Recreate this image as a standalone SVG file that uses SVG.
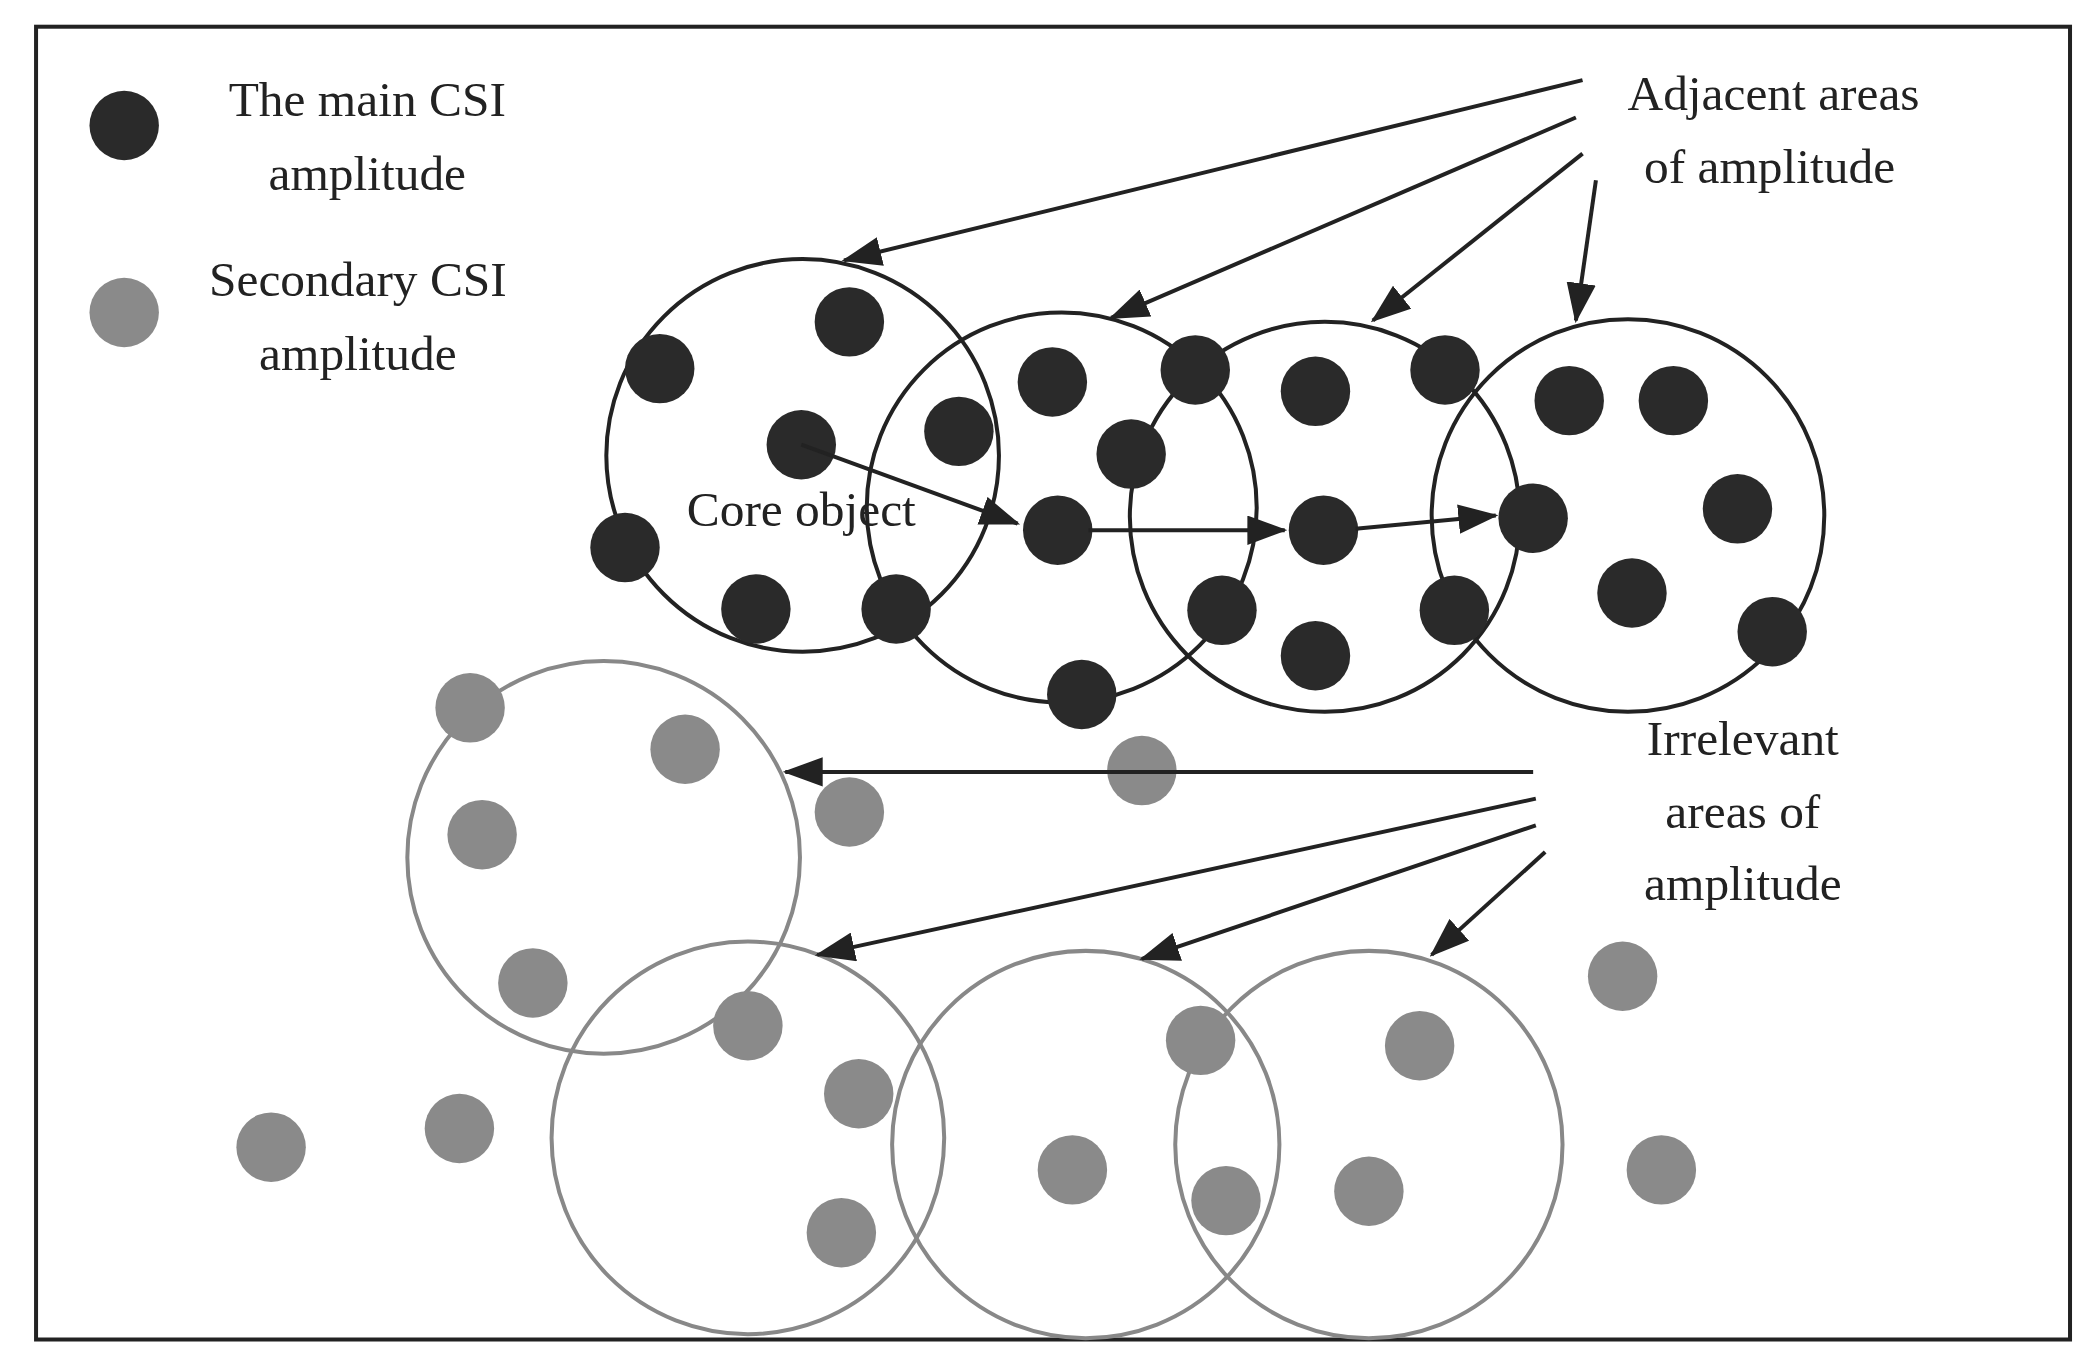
<svg xmlns="http://www.w3.org/2000/svg" width="2094" height="1361" viewBox="0 0 2094 1361">
<style>
.t{font-family:"Liberation Serif",serif;font-size:37px;fill:#222;text-anchor:middle}
.bk{fill:#2a2a2a}
.gr{fill:#8a8a8a}
.cb{fill:none;stroke:#222;stroke-width:3}
.cg{fill:none;stroke:#888;stroke-width:3}
.a{stroke:#222;stroke-width:3;fill:none;marker-end:url(#ah)}
</style>
<defs><marker id="ah" markerWidth="12" markerHeight="10" refX="11" refY="5" orient="auto" markerUnits="userSpaceOnUse" viewBox="0 0 12 10"><path d="M0,0 L12,5 L0,10 Z" fill="#222"/></marker>
<marker id="ah2" markerWidth="30" markerHeight="22" refX="28" refY="11" orient="auto" markerUnits="userSpaceOnUse" viewBox="0 0 30 22"><path d="M0,0 L30,11 L0,22 Z" fill="#222"/></marker></defs>
<rect width="2094" height="1361" fill="#fff"/>
<g transform="scale(1.3355)">
<rect x="27" y="20" width="1523" height="983" fill="none" stroke="#222" stroke-width="3"/>
<g id="legend">
<circle class="bk" cx="93" cy="94" r="26"/>
<text class="t" x="275" y="87">The main CSI</text><text class="t" x="275" y="142">amplitude</text>
<circle class="gr" cx="93" cy="234" r="26"/>
<text class="t" x="268" y="222">Secondary CSI</text><text class="t" x="268" y="277">amplitude</text>
</g>
<g id="main-clusters">
<circle class="cb" cx="601" cy="341" r="147"/><circle class="cb" cx="795" cy="380" r="146"/><circle class="cb" cx="992" cy="387" r="146"/><circle class="cb" cx="1219" cy="386" r="147"/>
<g class="bk">
<circle cx="636" cy="241" r="26"/><circle cx="494" cy="276" r="26"/><circle cx="600" cy="333" r="26"/><circle cx="718" cy="323" r="26"/><circle cx="468" cy="410" r="26"/><circle cx="566" cy="456" r="26"/><circle cx="671" cy="456" r="26"/><circle cx="788" cy="286" r="26"/><circle cx="847" cy="340" r="26"/><circle cx="895" cy="277" r="26"/><circle cx="792" cy="397" r="26"/><circle cx="810" cy="520" r="26"/><circle cx="915" cy="457" r="26"/><circle cx="985" cy="293" r="26"/><circle cx="1082" cy="277" r="26"/><circle cx="991" cy="397" r="26"/><circle cx="985" cy="491" r="26"/><circle cx="1089" cy="457" r="26"/><circle cx="1175" cy="300" r="26"/><circle cx="1253" cy="300" r="26"/><circle cx="1301" cy="381" r="26"/><circle cx="1148" cy="388" r="26"/><circle cx="1222" cy="444" r="26"/><circle cx="1327" cy="473" r="26"/>
</g>
<text class="t" x="600" y="394">Core object</text>
</g>
<g id="secondary-clusters">
<circle class="cg" cx="452" cy="642" r="147"/><circle class="cg" cx="560" cy="852" r="147"/><circle class="cg" cx="813" cy="857" r="145"/><circle class="cg" cx="1025" cy="857" r="145"/>
<g class="gr">
<circle cx="352" cy="530" r="26"/><circle cx="513" cy="561" r="26"/><circle cx="361" cy="625" r="26"/><circle cx="399" cy="736" r="26"/><circle cx="636" cy="608" r="26"/><circle cx="855" cy="577" r="26"/><circle cx="560" cy="768" r="26"/><circle cx="643" cy="819" r="26"/><circle cx="630" cy="923" r="26"/><circle cx="203" cy="859" r="26"/><circle cx="344" cy="845" r="26"/><circle cx="899" cy="779" r="26"/><circle cx="803" cy="876" r="26"/><circle cx="918" cy="899" r="26"/><circle cx="1063" cy="783" r="26"/><circle cx="1025" cy="892" r="26"/><circle cx="1215" cy="731" r="26"/><circle cx="1244" cy="876" r="26"/>
</g>
</g>
<g id="labels">
<text class="t" x="1328" y="82">Adjacent areas</text><text class="t" x="1325" y="137">of amplitude</text>
<text class="t" x="1305" y="565">Irrelevant</text><text class="t" x="1305" y="620">areas of</text><text class="t" x="1305" y="674">amplitude</text>
</g>
<g id="connectors">
<line x1="600" y1="333" x2="762" y2="392" stroke="#222" stroke-width="3" marker-end="url(#ah2)"/>
<line x1="815" y1="397" x2="962" y2="397" stroke="#222" stroke-width="3" marker-end="url(#ah2)"/>
<line x1="1015" y1="396" x2="1120" y2="386" stroke="#222" stroke-width="3" marker-end="url(#ah2)"/>
<line x1="1185" y1="60" x2="632" y2="195" stroke="#222" stroke-width="3" marker-end="url(#ah2)"/>
<line x1="1180" y1="88" x2="832" y2="238" stroke="#222" stroke-width="3" marker-end="url(#ah2)"/>
<line x1="1185" y1="115" x2="1028" y2="240" stroke="#222" stroke-width="3" marker-end="url(#ah2)"/>
<line x1="1195" y1="135" x2="1180" y2="240" stroke="#222" stroke-width="3" marker-end="url(#ah2)"/>
<line x1="1148" y1="578" x2="588" y2="578" stroke="#222" stroke-width="3" marker-end="url(#ah2)"/>
<line x1="1150" y1="598" x2="612" y2="715" stroke="#222" stroke-width="3" marker-end="url(#ah2)"/>
<line x1="1150" y1="618" x2="855" y2="718" stroke="#222" stroke-width="3" marker-end="url(#ah2)"/>
<line x1="1157" y1="638" x2="1072" y2="715" stroke="#222" stroke-width="3" marker-end="url(#ah2)"/>
</g>
</g>
</svg>
